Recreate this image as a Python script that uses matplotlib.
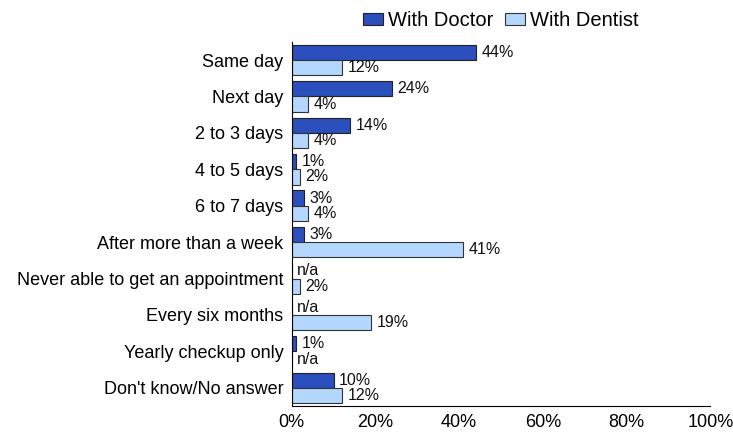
import matplotlib
matplotlib.use('Agg')
import matplotlib.pyplot as plt
import numpy as np

categories = ['Same day', 'Next day', '2 to 3 days', '4 to 5 days', '6 to 7 days',
              'After more than a week', 'Never able to get an appointment',
              'Every six months', 'Yearly checkup only', "Don't know/No answer"]
doctor = [44, 24, 14, 1, 3, 3, None, None, 1, 10]
dentist = [12, 4, 4, 2, 4, 41, 2, 19, None, 12]
xticks = [0, 20, 40, 60, 80, 100]

plt.rcParams['font.family'] = ['Liberation Sans', 'DejaVu Sans']

fig = plt.figure(figsize=(7.33, 4.34), dpi=100)
ax = fig.add_axes([0.398, 0.0645, 0.571, 0.839])

y = np.arange(len(categories))
h = 0.42
doc_vals = [v if v is not None else 0 for v in doctor]
den_vals = [v if v is not None else 0 for v in dentist]

b1 = ax.barh(y - h / 2, doc_vals, height=h, color='#2B4FBD', edgecolor='#222222',
             linewidth=0.8, label='With Doctor')
b2 = ax.barh(y + h / 2, den_vals, height=h, color='#B3D7FF', edgecolor='#333333',
             linewidth=0.8, label='With Dentist')

# value labels, n/a where no bar
for vals, offs in ((doctor, -h / 2), (dentist, h / 2)):
    for i, v in enumerate(vals):
        txt = 'n/a' if v is None else f'{v}%'
        xv = 0 if v is None else v
        ax.annotate(txt, (xv, i + offs), xytext=(4, 0), textcoords='offset points',
                    va='center', ha='left', fontsize=11.5, color='#111111')

ax.set_xlim(0, 100)
ax.set_ylim(9.5, -0.5)
ax.set_yticks(y)
ax.set_yticklabels(categories, fontsize=13)
ax.set_xticks(xticks)
ax.set_xticklabels([f'{t}%' for t in xticks], fontsize=13)
ax.tick_params(length=0, pad=6)
ax.spines['top'].set_visible(False)
ax.spines['right'].set_visible(False)

ax.legend(handles=[b1, b2], loc='lower center', bbox_to_anchor=(0.5, 1.0), ncol=2,
          frameon=False, fontsize=14.5, handlelength=1.0, handleheight=0.55,
          handletextpad=0.25, columnspacing=0.55, borderaxespad=0.2)

fig.savefig('out.png', dpi=100)
